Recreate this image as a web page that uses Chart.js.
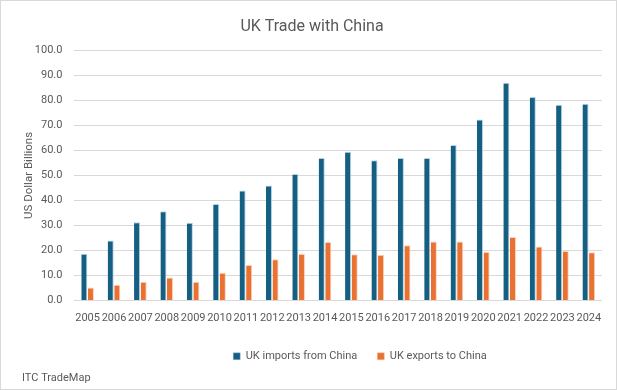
<!DOCTYPE html>
<html>
<head>
<meta charset="utf-8">
<script src="https://cdn.jsdelivr.net/npm/chart.js@4/dist/chart.umd.min.js"></script>
<style>
  body { margin: 0; background: #fff; }
  #wrap { width: 617px; height: 390px; box-sizing: border-box; border: 1px solid #d9d9d9; }
</style>
</head>
<body>
<div id="wrap"><canvas id="myChart" width="615" height="388"></canvas></div>
<script>
var years = ["2005", "2006", "2007", "2008", "2009", "2010", "2011", "2012", "2013", "2014",
             "2015", "2016", "2017", "2018", "2019", "2020", "2021", "2022", "2023", "2024"];
var importsFromChina = [18.7, 24.0, 31.3, 35.7, 31.1, 38.6, 44.0, 46.0, 50.6, 56.9,
                        59.4, 56.1, 56.9, 56.9, 62.1, 72.3, 87.0, 81.3, 78.2, 78.6];
var exportsToChina = [5.2, 6.3, 7.5, 9.2, 7.5, 11.1, 14.2, 16.5, 18.7, 23.4,
                      18.5, 18.3, 22.1, 23.6, 23.6, 19.5, 25.4, 21.6, 19.8, 19.3];

var fontFamily = "Roboto, 'Liberation Sans', sans-serif";
var grey = "#595959";

// nudge the legend to the right, as in the original
var legendShift = {
	id: 'legendShift',
	afterLayout: function (chart) {
		chart.legend.left += 48;
		chart.legend.right += 48;
	}
};

var ctx = document.getElementById("myChart");
var myChart = new Chart(ctx, {
	type: 'bar',
	data: {
		labels: years,
		datasets: [
			{
				label: "UK imports from China",
				data: importsFromChina,
				backgroundColor: "#156082",
				borderColor: "rgba(160,200,220,0.8)",
				borderWidth: { top: 1, left: 0, right: 1, bottom: 0 },
				barPercentage: 0.92,
				categoryPercentage: 0.5
			},
			{
				label: "UK exports to China",
				data: exportsToChina,
				backgroundColor: "#e97132",
				borderColor: "rgba(250,200,170,0.8)",
				borderWidth: { top: 1, left: 0, right: 1, bottom: 0 },
				barPercentage: 0.92,
				categoryPercentage: 0.5
			}
		]
	},
	plugins: [legendShift],
	options: {
		responsive: false,
		maintainAspectRatio: false,
		animation: false,
		layout: { padding: { left: 21, right: 14, top: 4, bottom: 4 } },
		plugins: {
			title: {
				display: true,
				text: "UK Trade with China",
				color: grey,
				font: { family: fontFamily, size: 16, weight: 'normal' },
				padding: { top: 12, bottom: 14 }
			},
			legend: {
				display: true,
				position: 'bottom',
				labels: {
					color: grey,
					font: { family: fontFamily, size: 11 },
					boxWidth: 7,
					boxHeight: 7,
					padding: 20
				}
			},
			subtitle: {
				display: true,
				text: "ITC TradeMap",
				position: 'bottom',
				align: 'start',
				color: grey,
				font: { family: fontFamily, size: 11 },
				padding: { top: 0, bottom: 0 }
			},
			tooltip: { enabled: false }
		},
		scales: {
			x: {
				grid: { display: false, drawTicks: false },
				border: { display: false },
				ticks: {
					color: grey,
					font: { family: fontFamily, size: 11 },
					maxRotation: 0,
					autoSkip: false,
					padding: 11
				},
				afterFit: function (scale) { scale.height -= 5; }
			},
			y: {
				min: 0,
				max: 100,
				grid: { color: "#d9d9d9", drawTicks: false },
				border: { display: false },
				ticks: {
					stepSize: 10,
					color: grey,
					font: { family: fontFamily, size: 11 },
					padding: 12,
					callback: function (v) { return v.toFixed(1); }
				},
				title: {
					display: true,
					text: "US Dollar Billions",
					color: grey,
					font: { family: fontFamily, size: 11.5 },
					padding: { top: 0, bottom: 2 }
				},
				afterFit: function (scale) { scale.width -= 15; }
			}
		}
	}
});
</script>
</body>
</html>
